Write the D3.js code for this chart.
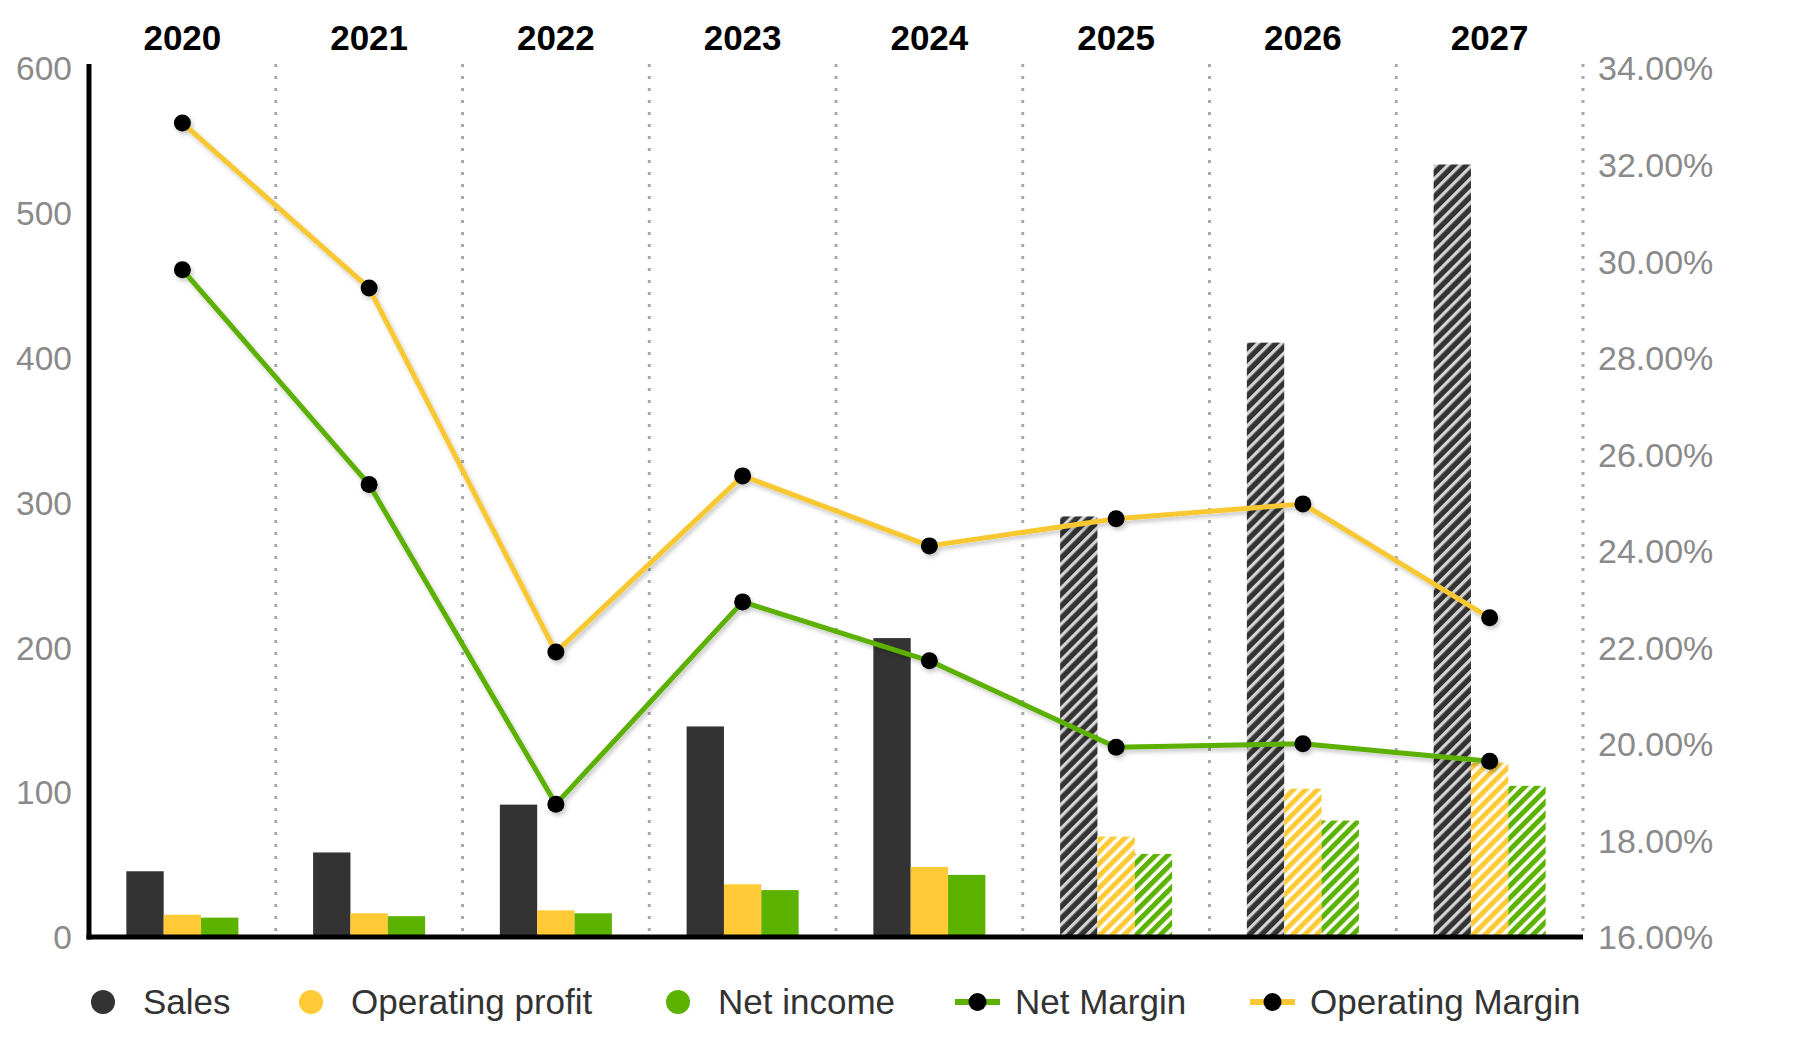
<!DOCTYPE html>
<html>
<head>
<meta charset="utf-8">
<script src="https://cdn.jsdelivr.net/npm/d3@7"></script>
<style>
  html, body { margin: 0; padding: 0; background: #fff; }
  svg { display: block; font-family: "Liberation Sans", Arial, Helvetica, sans-serif; }
</style>
</head>
<body>
<svg id="chart" width="1813" height="1050"></svg>
<script>
// ---- data ----
const years = ["2020", "2021", "2022", "2023", "2024", "2025", "2026", "2027"];
const forecastYears = ["2025", "2026", "2027"];
const sales = [44, 57, 90, 144, 205, 289, 409, 532];
const operatingProfit = [14, 15, 17, 35, 47, 68, 101, 119];
const netIncome = [12, 13, 15, 31, 41.5, 56, 79, 103];
const netMargin = [29.78, 25.33, 18.71, 22.90, 21.68, 19.89, 19.96, 19.60];
const operatingMargin = [32.82, 29.40, 21.86, 25.51, 24.06, 24.62, 24.93, 22.57];
const leftTicks = [0, 100, 200, 300, 400, 500, 600];
const rightTicks = [16, 18, 20, 22, 24, 26, 28, 30, 32, 34];
const barSeries = ["Sales", "Operating profit", "Net income"];
const lineSeries = ["Net Margin", "Operating Margin"];

// ---- styles ----
const colors = { "Sales": "#333333", "Operating profit": "#FFCA36", "Net income": "#5BB300",
                 "Net Margin": "#5BB000", "Operating Margin": "#F8C832" };
const barValues = { "Sales": sales, "Operating profit": operatingProfit, "Net income": netIncome };
const lineValues = { "Net Margin": netMargin, "Operating Margin": operatingMargin };

const svg = d3.select("#chart");
const plotLeft = 89, plotRight = 1583, plotTop = 66, plotBottom = 935;

const x = d3.scaleBand().domain(years).range([plotLeft, plotRight]).padding(0);
const yL = d3.scaleLinear().domain([0, 600]).range([plotBottom, plotTop]);
const yR = d3.scaleLinear().domain([16, 34]).range([plotBottom, plotTop]);
const bw = x.bandwidth() * 0.2;
const pid = s => "hatch-" + s.replace(/ /g, "_");

// ---- defs: hatch patterns + shadow ----
const defs = svg.append("defs");
function hatch(id, bg, stripe, stripeW, stripeOpacity) {
  const p = defs.append("pattern").attr("id", id)
    .attr("patternUnits", "userSpaceOnUse").attr("width", 8.5).attr("height", 8.5)
    .attr("patternTransform", "rotate(45)");
  p.append("rect").attr("width", 8.5).attr("height", 8.5).attr("fill", bg);
  p.append("rect").attr("x", 0).attr("width", stripeW).attr("height", 8.5)
    .attr("fill", stripe).attr("opacity", stripeOpacity);
}
hatch(pid("Sales"), "#333333", "#ffffff", 3.2, 0.8);
hatch(pid("Operating profit"), "#ffffff", colors["Operating profit"], 5, 1);
hatch(pid("Net income"), "#ffffff", colors["Net income"], 5, 1);

const f = defs.append("filter").attr("id", "shadow").attr("x", "-10%").attr("y", "-10%")
  .attr("width", "120%").attr("height", "130%");
f.append("feDropShadow").attr("dx", 2).attr("dy", 3).attr("stdDeviation", 2)
  .attr("flood-color", "#000").attr("flood-opacity", 0.22);

// ---- dotted vertical separators ----
svg.append("g").selectAll("line").data(years).join("line")
  .attr("x1", d => x(d) + x.bandwidth()).attr("x2", d => x(d) + x.bandwidth())
  .attr("y1", 64).attr("y2", 932)
  .attr("stroke", "#a8a8a8").attr("stroke-width", 3).attr("stroke-dasharray", "3,9");

// ---- bars ----
barSeries.forEach((s, i) => {
  svg.append("g").selectAll("rect").data(years).join("rect")
    .attr("x", d => x(d) + x.bandwidth() / 2 - 1.5 * bw + i * bw)
    .attr("width", bw)
    .attr("y", (d, j) => yL(barValues[s][j]))
    .attr("height", (d, j) => yL(0) - yL(barValues[s][j]))
    .attr("fill", d => forecastYears.includes(d) ? `url(#${pid(s)})` : colors[s]);
});

// ---- axes lines ----
svg.append("line").attr("x1", plotLeft).attr("x2", plotLeft).attr("y1", 64).attr("y2", plotBottom + 4.5)
  .attr("stroke", "#000").attr("stroke-width", 5);
svg.append("line").attr("x1", plotLeft - 2.5).attr("x2", plotRight).attr("y1", plotBottom + 2).attr("y2", plotBottom + 2)
  .attr("stroke", "#000").attr("stroke-width", 5);

// ---- lines with markers ----
lineSeries.forEach(s => {
  const vals = lineValues[s];
  const g = svg.append("g").attr("filter", "url(#shadow)");
  const line = d3.line().x((d, j) => x(years[j]) + x.bandwidth() / 2).y(d => yR(d));
  g.append("path").datum(vals).attr("d", line)
    .attr("fill", "none").attr("stroke", colors[s]).attr("stroke-width", 5)
    .attr("stroke-linejoin", "round");
  g.selectAll("circle").data(vals).join("circle")
    .attr("cx", (d, j) => x(years[j]) + x.bandwidth() / 2).attr("cy", d => yR(d))
    .attr("r", 8.5).attr("fill", "#000");
});

// ---- axes labels ----
const la = svg.append("g").attr("transform", `translate(${plotLeft},0)`)
  .call(d3.axisLeft(yL).tickValues(leftTicks).tickSize(0).tickPadding(17));
la.select(".domain").remove();
la.selectAll("text").attr("font-size", 33.5).attr("fill", "#8a8a8a").attr("font-family", null)
  .attr("transform", "translate(0,3)");

const ra = svg.append("g").attr("transform", `translate(${plotRight},0)`)
  .call(d3.axisRight(yR).tickValues(rightTicks).tickFormat(d => d.toFixed(2) + "%").tickSize(0).tickPadding(15));
ra.select(".domain").remove();
ra.selectAll("text").attr("font-size", 34).attr("fill", "#8a8a8a").attr("font-family", null)
  .attr("transform", "translate(0,3)");

const ta = svg.append("g").attr("transform", "translate(0,50)")
  .call(d3.axisTop(x).tickSize(0).tickPadding(0));
ta.select(".domain").remove();
ta.selectAll("text").attr("font-size", 35).attr("font-weight", "bold").attr("fill", "#000")
  .attr("font-family", null);

// ---- legend ----
const legendItems = [
  { name: "Sales", type: "bar", x: 91 },
  { name: "Operating profit", type: "bar", x: 299 },
  { name: "Net income", type: "bar", x: 666 },
  { name: "Net Margin", type: "line", x: 955 },
  { name: "Operating Margin", type: "line", x: 1250 }
];
const ly = 1002;
const lg = svg.append("g");
legendItems.forEach(it => {
  const g = lg.append("g").attr("transform", `translate(${it.x},${ly})`);
  if (it.type === "bar") {
    g.append("circle").attr("cx", 12).attr("cy", 0).attr("r", 12).attr("fill", colors[it.name]);
    g.append("text").attr("x", 52).attr("y", 12).attr("font-size", 35).attr("fill", "#333").text(it.name);
  } else {
    g.append("line").attr("x1", 0).attr("x2", 45).attr("y1", 0).attr("y2", 0)
      .attr("stroke", colors[it.name]).attr("stroke-width", 6);
    g.append("circle").attr("cx", 22.5).attr("cy", 0).attr("r", 9).attr("fill", "#000");
    g.append("text").attr("x", 60).attr("y", 12).attr("font-size", 35).attr("fill", "#333").text(it.name);
  }
});
</script>
</body>
</html>
